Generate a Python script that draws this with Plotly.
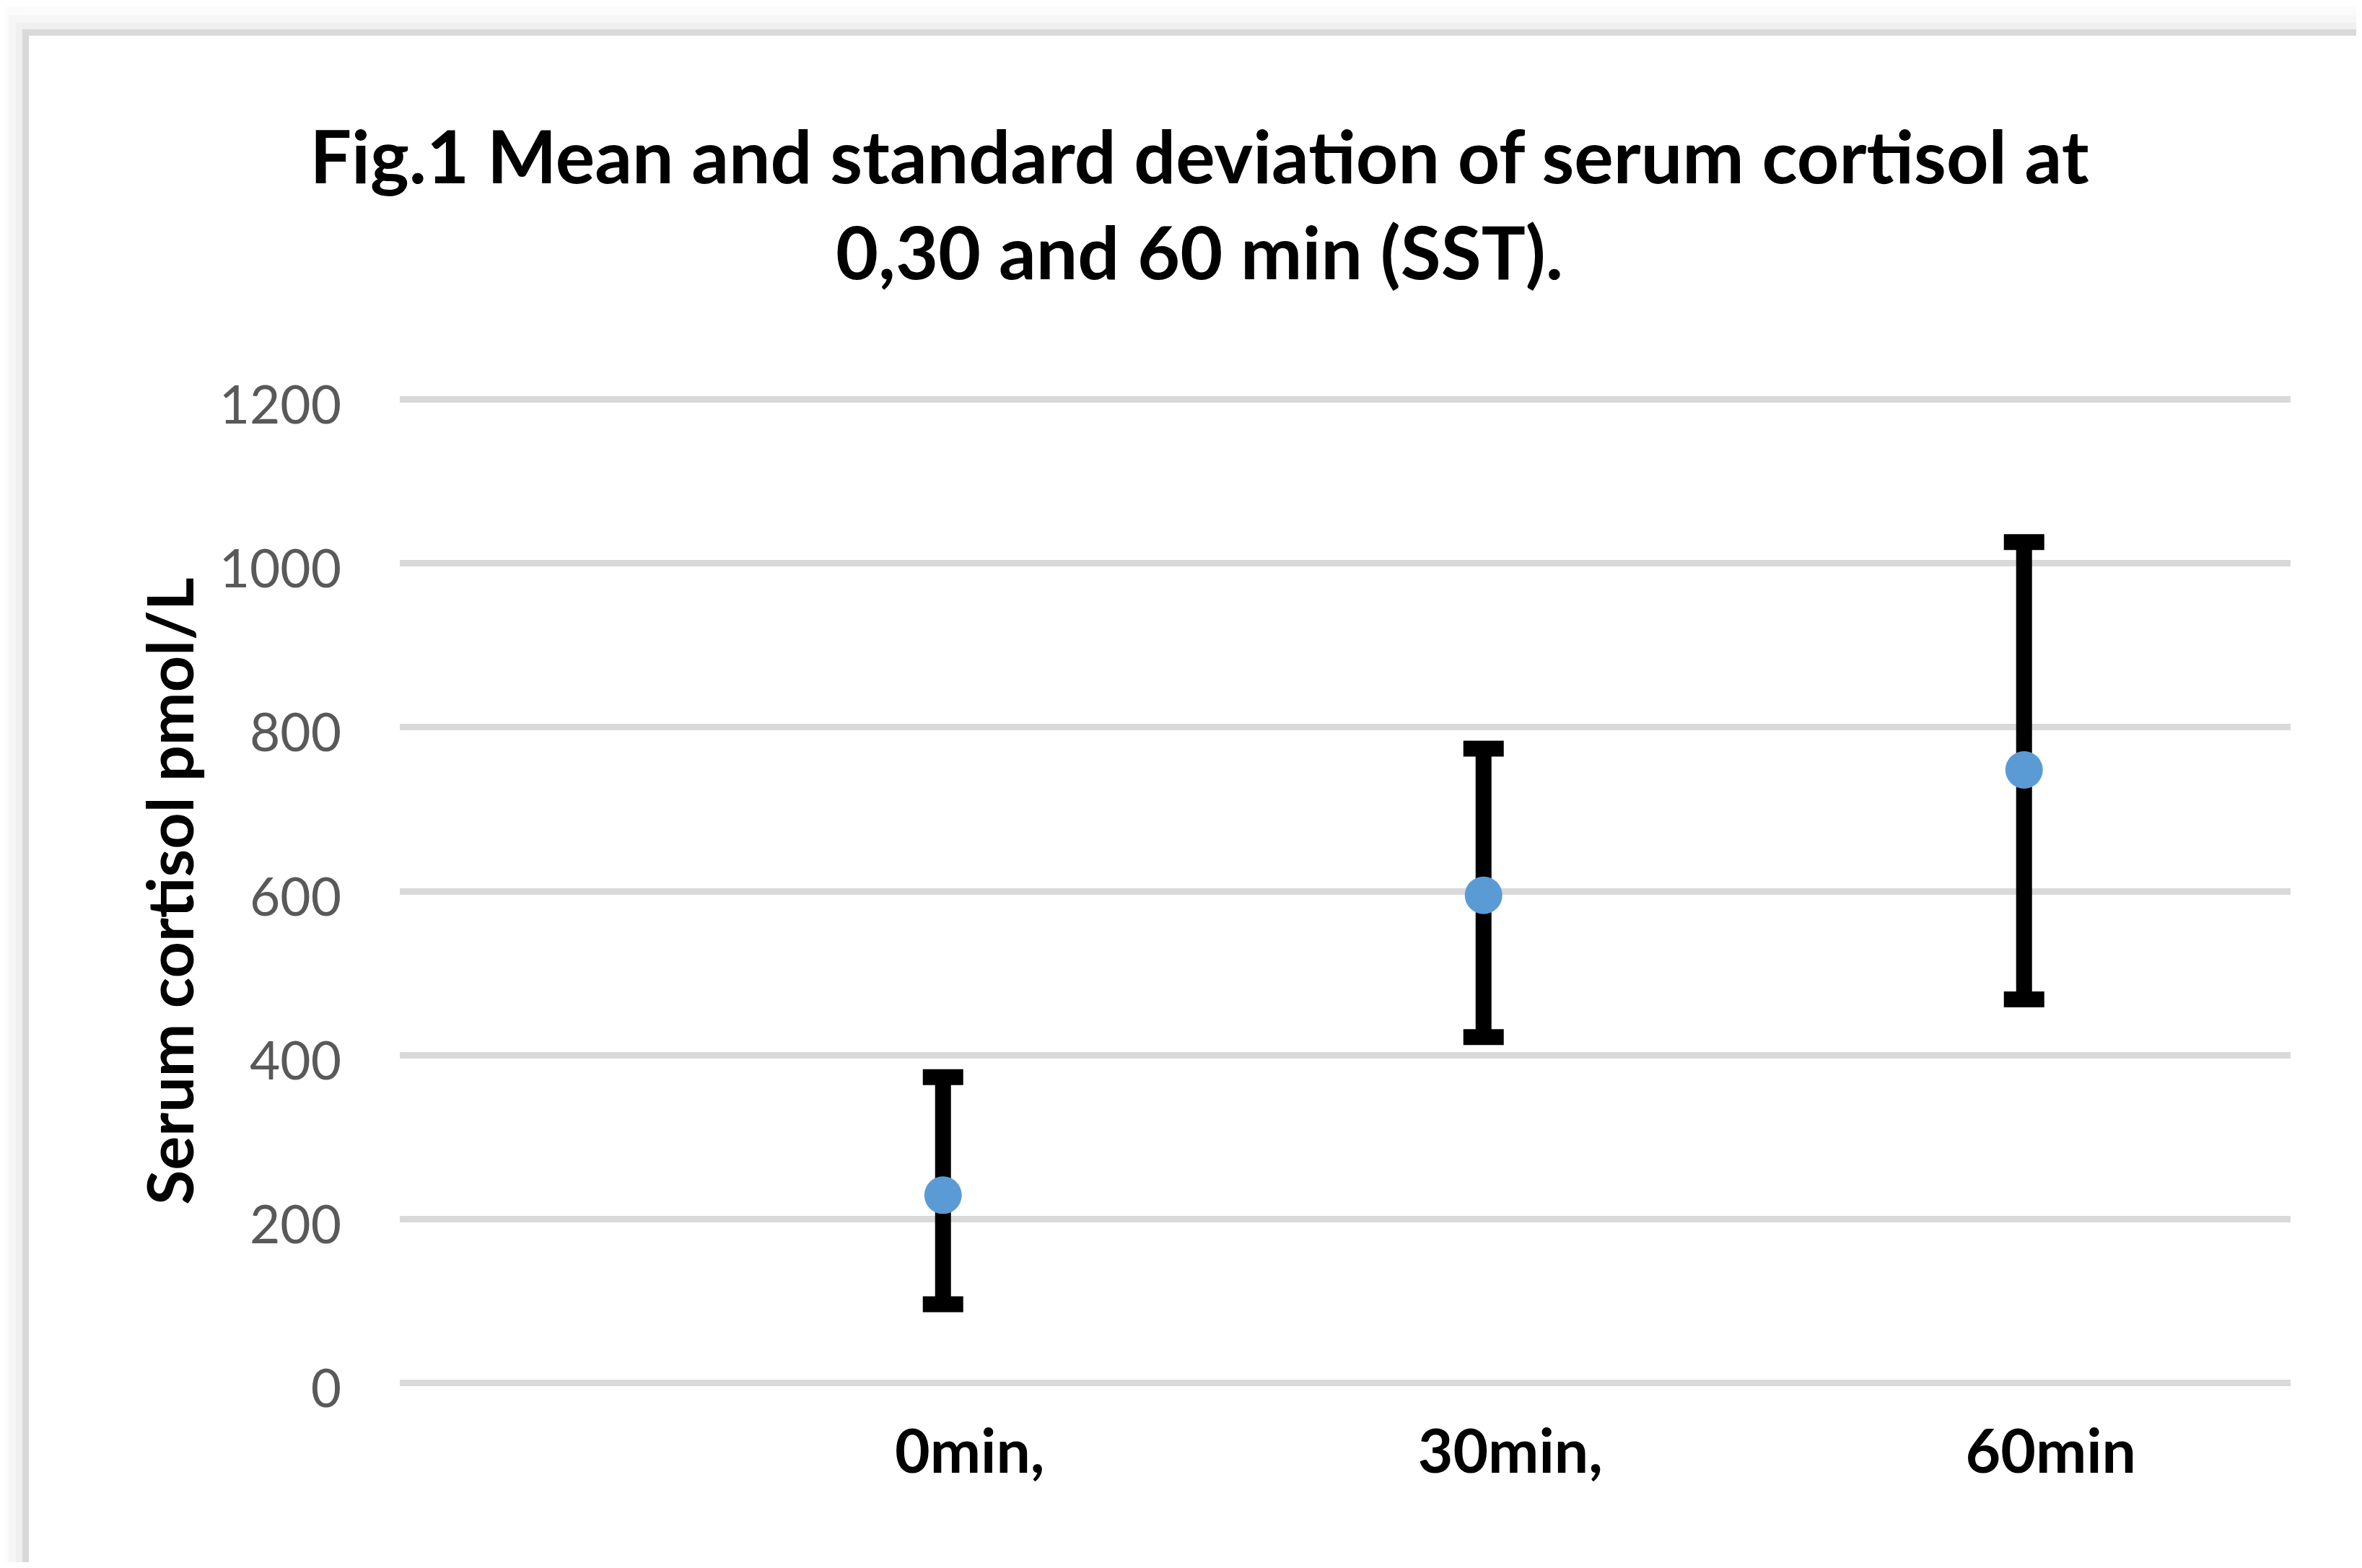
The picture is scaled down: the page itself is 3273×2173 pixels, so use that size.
import plotly.graph_objects as go

# ---- data ----
categories = ["0min,", "30min,", "60min"]
mean_cortisol = [229, 595, 748]
sd_upper = [144, 179, 278]
sd_lower = [133, 173, 280]
y_ticks = [0, 200, 400, 600, 800, 1000, 1200]

# page is rendered with an 8px body margin; work in figure coordinates
OFF = 8
W, H = 3273 - 2 * OFF, 2173 - 2 * OFF

Y_LO, Y_HI = -4, 1204           # tiny padding so the 0 / 1200 gridlines are drawn
unit = (1916 - 553.8) / 1200.0  # px per data unit
top_f = 553.8 - OFF - (Y_HI - 1200) * unit
bot_f = 1916 - OFF + (0 - Y_LO) * unit
L = 554 - OFF
R = W - (3174 - OFF)
T = top_f
B = H - bot_f
PW, PH = W - L - R, H - T - B

X_END = W + OFF   # page coordinate of the figure's right edge
Y_END = H + OFF   # page coordinate of the figure's bottom edge


def px_x(p):
    return (p - OFF - L) / PW


def px_y(p):
    return (bot_f - (p - OFF)) / PH


FONT = "Lato"

fig = go.Figure(
    go.Scatter(
        x=categories,
        y=mean_cortisol,
        mode="markers",
        marker=dict(size=52, color="#5b9bd5"),
        error_y=dict(
            type="data",
            symmetric=False,
            array=sd_upper,
            arrayminus=sd_lower,
            color="black",
            thickness=22,
            width=28,
        ),
        showlegend=False,
    )
)

# chart frame with soft shadow (decoration)
shapes = []
for off, col in [(0, "#fbfbfb"), (12, "#f6f6f6"), (22, "#f0f0f0")]:
    # top strip
    shapes.append(dict(type="rect", xref="paper", yref="paper", layer="below",
                       x0=px_x(off), x1=px_x(X_END), y0=px_y(off + 10), y1=px_y(41),
                       line=dict(width=0), fillcolor=col))
    # left strip
    shapes.append(dict(type="rect", xref="paper", yref="paper", layer="below",
                       x0=px_x(off), x1=px_x(31), y0=px_y(off + 10), y1=px_y(Y_END),
                       line=dict(width=0), fillcolor=col))
shapes.append(dict(type="line", xref="paper", yref="paper", layer="below",
                   x0=px_x(31), x1=px_x(X_END), y0=px_y(45.5), y1=px_y(45.5),
                   line=dict(width=9, color="#d9d9d9")))
shapes.append(dict(type="line", xref="paper", yref="paper", layer="below",
                   x0=px_x(35.5), x1=px_x(35.5), y0=px_y(41), y1=px_y(Y_END),
                   line=dict(width=9, color="#d9d9d9")))

fig.update_layout(
    width=W,
    height=H,
    margin=dict(l=L, r=R, t=T, b=B, pad=0, autoexpand=False),
    paper_bgcolor="white",
    plot_bgcolor="white",
    shapes=shapes,
    title=dict(
        text="Fig.1 Mean and standard deviation of serum cortisol at<br>0,30 and 60 min (SST).",
        x=(1662 - OFF) / W,
        xanchor="center",
        xref="container",
        y=1 - 246 / H,
        yanchor="middle",
        yref="container",
        font=dict(family=FONT, size=102, color="black", weight="bold"),
    ),
    xaxis=dict(
        type="category",
        range=[-1.005, 2.493],
        showgrid=False,
        zeroline=False,
        showline=False,
        ticks="",
        tickfont=dict(family=FONT, size=84, color="black", weight="bold"),
        ticklabelshift=37,
        ticklabelstandoff=35,
    ),
    yaxis=dict(
        range=[Y_LO, Y_HI],
        tickvals=y_ticks,
        showgrid=True,
        gridcolor="#d9d9d9",
        gridwidth=9,
        zeroline=False,
        showline=False,
        ticks="",
        tickfont=dict(family=FONT, size=73, color="#595959"),
        ticklabelstandoff=80,
        ticklabelshift=8,
        title=dict(
            text="Serum cortisol pmol/L",
            font=dict(family=FONT, size=88, color="black", weight="bold"),
            standoff=5,
        ),
    ),
)

fig.write_html("out.html")
